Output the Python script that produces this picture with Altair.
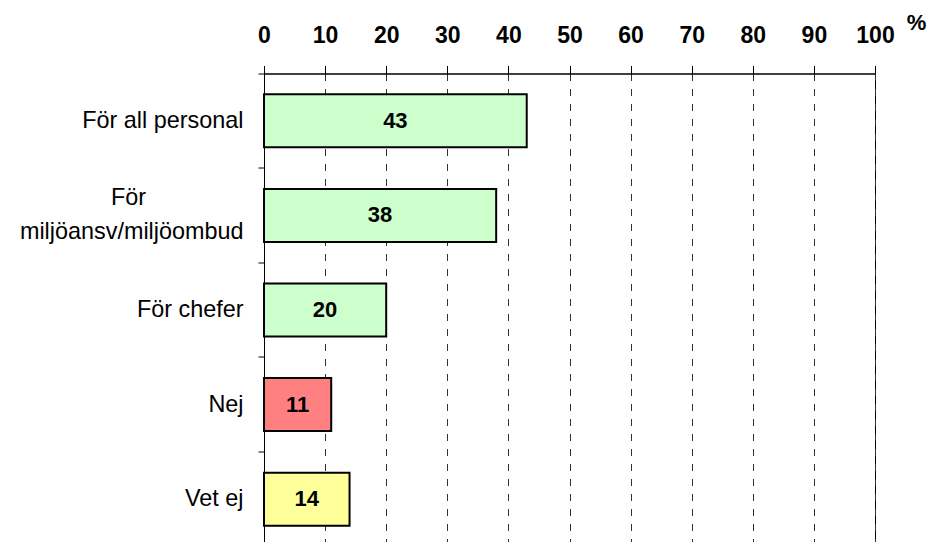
import altair as alt
import pandas as pd

NB = "\u00a0"
categories = [
    "För all personal",
    "För" + NB * 15 + "\u200b|miljöansv/miljöombud",
    "För chefer",
    "Nej",
    "Vet ej",
]
values = [43, 38, 20, 11, 14]
bar_colors = ["#CCFFCC", "#CCFFCC", "#CCFFCC", "#FF8080", "#FFFF99"]
x_ticks = [0, 10, 20, 30, 40, 50, 60, 70, 80, 90, 100]

FONT = "Liberation Sans, Arial, sans-serif"

df = pd.DataFrame({"kategori": categories, "procent": values})
base = alt.Chart(df)

x_scale = alt.Scale(domain=[0, 100], nice=False)
y_scale = alt.Scale(paddingInner=0, paddingOuter=0)

x_axis = alt.Axis(
    orient="top",
    values=x_ticks,
    format="d",
    labelFont=FONT,
    labelFontSize=23,
    labelFontWeight="bold",
    labelColor="black",
    labelBaseline="alphabetic",
    labelPadding=23,
    labelFlush=False,
    tickSize=8,
    tickColor="black",
    domainColor="black",
    grid=True,
    gridColor="#333333",
    gridDash=[7, 8],
    gridWidth=1,
    titleFont=FONT,
    titleFontSize=22,
    titleFontWeight="bold",
    titleColor="black",
    titleAngle=0,
    titleAlign="center",
    titleBaseline="middle",
    titleX=652,
    titleY=-51,
)

y_axis = alt.Axis(
    orient="left",
    bandPosition=0,
    labelExpr="split(datum.label, '|')",
    labelOffset={"condition": {"test": "indexof(datum.value, '|') >= 0", "value": -17}, "value": 0},
    labelFont=FONT,
    labelFontSize=23.4,
    labelColor="black",
    labelLineHeight=34,
    labelLimit=0,
    labelPadding=15,
    tickSize=6,
    tickColor="black",
    domainColor="black",
    grid=False,
)

bars = base.mark_bar(size=53, stroke="black", strokeWidth=2).encode(
    x=alt.X("procent:Q", scale=x_scale, title="%", axis=x_axis),
    y=alt.Y("kategori:N", sort=categories, scale=y_scale, title=None, axis=y_axis),
    color=alt.Color(
        "kategori:N",
        scale=alt.Scale(domain=categories, range=bar_colors),
        legend=None,
    ),
)

texts = base.transform_calculate(mid="datum.procent / 2").mark_text(
    font=FONT, fontSize=22, fontWeight="bold", color="black", baseline="middle"
).encode(
    x=alt.X("mid:Q", scale=x_scale, title="%", axis=x_axis),
    y=alt.Y("kategori:N", sort=categories, scale=y_scale, title=None, axis=y_axis),
    text=alt.Text("procent:Q"),
)

chart = (
    alt.layer(bars, texts)
    .properties(
        width=611,
        height=473,
        autosize=alt.AutoSizeParams(type="none"),
        padding={"left": 256, "top": 65.5, "right": 52, "bottom": 0},
    )
    .configure_view(stroke="black", strokeWidth=1)
)

chart.save("out.html", embed_options={"renderer": "svg", "actions": False})
